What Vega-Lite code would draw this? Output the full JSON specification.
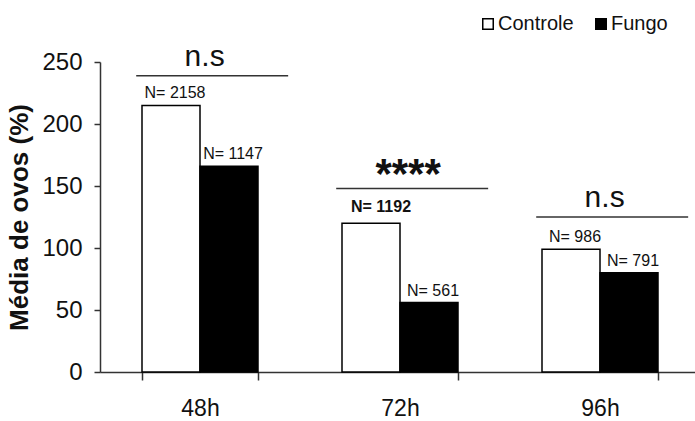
{
  "$schema": "https://vega.github.io/schema/vega-lite/v6.json",
  "autosize": {"type": "none"},
  "padding": {"left": 100, "top": 62, "right": 0, "bottom": 49},
  "width": 595,
  "height": 310,
  "background": "white",
  "config": {"view": {"stroke": null}, "font": "Liberation Sans"},
  "datasets": {
    "barras": [
      {"hora": "48h", "grupo": "Controle", "media": 215, "rotulo": "N= 2158", "destaque": false},
      {"hora": "48h", "grupo": "Fungo", "media": 166, "rotulo": "N= 1147", "destaque": false},
      {"hora": "72h", "grupo": "Controle", "media": 120, "rotulo": "N= 1192", "destaque": true},
      {"hora": "72h", "grupo": "Fungo", "media": 56, "rotulo": "N= 561", "destaque": false},
      {"hora": "96h", "grupo": "Controle", "media": 99, "rotulo": "N= 986", "destaque": false},
      {"hora": "96h", "grupo": "Fungo", "media": 80, "rotulo": "N= 791", "destaque": false}
    ],
    "signif": [
      {"hora": "48h", "texto": "n.s", "altura": 239},
      {"hora": "72h", "texto": "****", "altura": 148},
      {"hora": "96h", "texto": "n.s", "altura": 125}
    ]
  },
  "layer": [
    {
      "data": {"name": "barras"},
      "mark": {"type": "bar", "stroke": "black", "strokeWidth": 1.5},
      "encoding": {
        "x": {
          "field": "hora", "type": "nominal", "sort": ["48h", "72h", "96h"],
          "scale": {"range": [0, 600], "paddingInner": 0.42, "paddingOuter": 0.21},
          "axis": {
            "title": null, "labelAngle": 0, "tickBand": "extent", "tickSize": 8,
            "labelFontSize": 23, "labelPadding": 17, "labelColor": "#111",
            "domainColor": "#333", "tickColor": "#333", "domainWidth": 1.5, "tickWidth": 1.5, "grid": false
          }
        },
        "xOffset": {"field": "grupo", "type": "nominal", "sort": ["Controle", "Fungo"]},
        "y": {
          "field": "media", "type": "quantitative", "title": "Média de ovos  (%)",
          "scale": {"domain": [0, 250], "nice": false},
          "axis": {
            "values": [0, 50, 100, 150, 200, 250], "tickSize": 6, "labelPadding": 12,
            "labelFontSize": 24, "labelColor": "#111", "domainColor": "#333", "tickColor": "#333",
            "domainWidth": 1.5, "tickWidth": 1.5, "grid": false,
            "titleFontSize": 26, "titleFontWeight": "bold", "titleColor": "#111", "titlePadding": 9
          }
        },
        "fill": {
          "field": "grupo", "type": "nominal",
          "scale": {"domain": ["Controle", "Fungo"], "range": ["white", "black"]},
          "legend": {
            "title": null, "orient": "none", "legendX": 378, "legendY": -48, "direction": "horizontal",
            "symbolType": "square", "symbolSize": 110, "symbolStrokeColor": "black", "symbolStrokeWidth": 1.5,
            "labelFontSize": 20, "labelOffset": 0, "columnPadding": 17, "labelColor": "#111", "padding": 0
          }
        }
      }
    },
    {
      "data": {"name": "barras"},
      "transform": [{"filter": "!datum.destaque"}],
      "mark": {"type": "text", "fontSize": 16, "dx": 4, "dy": -7, "align": "center", "baseline": "alphabetic", "color": "#111"},
      "encoding": {
        "x": {"field": "hora", "type": "nominal", "sort": ["48h", "72h", "96h"]},
        "xOffset": {"field": "grupo", "type": "nominal", "sort": ["Controle", "Fungo"]},
        "y": {"field": "media", "type": "quantitative", "title": "Média de ovos  (%)", "scale": {"domain": [0, 250], "nice": false}},
        "text": {"field": "rotulo"}
      }
    },
    {
      "data": {"name": "barras"},
      "transform": [{"filter": "datum.destaque"}],
      "mark": {"type": "text", "fontSize": 16, "fontWeight": "bold", "dx": 10, "dy": -11, "align": "center", "baseline": "alphabetic", "color": "#111"},
      "encoding": {
        "x": {"field": "hora", "type": "nominal", "sort": ["48h", "72h", "96h"]},
        "xOffset": {"field": "grupo", "type": "nominal", "sort": ["Controle", "Fungo"]},
        "y": {"field": "media", "type": "quantitative", "title": "Média de ovos  (%)", "scale": {"domain": [0, 250], "nice": false}},
        "text": {"field": "rotulo"}
      }
    },
    {
      "data": {"name": "signif"},
      "mark": {"type": "rule", "stroke": "#333", "strokeWidth": 1.5},
      "encoding": {
        "x": {"field": "hora", "type": "nominal", "sort": ["48h", "72h", "96h"], "bandPosition": -0.05},
        "x2": {"field": "hora", "bandPosition": 1.26},
        "y": {"field": "altura", "type": "quantitative", "title": "Média de ovos  (%)", "scale": {"domain": [0, 250], "nice": false}}
      }
    },
    {
      "data": {"name": "signif"},
      "transform": [{"filter": "datum.texto == 'n.s'"}],
      "mark": {"type": "text", "fontSize": 30, "dy": -10, "align": "center", "baseline": "alphabetic", "color": "#111"},
      "encoding": {
        "x": {"field": "hora", "type": "nominal", "sort": ["48h", "72h", "96h"], "bandPosition": 0.54},
        "y": {"field": "altura", "type": "quantitative", "title": "Média de ovos  (%)", "scale": {"domain": [0, 250], "nice": false}},
        "text": {"field": "texto"}
      }
    },
    {
      "data": {"name": "signif"},
      "transform": [{"filter": "datum.texto == '****'"}],
      "mark": {"type": "text", "fontSize": 42, "fontWeight": "bold", "dy": 0, "align": "center", "baseline": "alphabetic", "color": "#111"},
      "encoding": {
        "x": {"field": "hora", "type": "nominal", "sort": ["48h", "72h", "96h"], "bandPosition": 0.57},
        "y": {"field": "altura", "type": "quantitative", "title": "Média de ovos  (%)", "scale": {"domain": [0, 250], "nice": false}},
        "text": {"field": "texto"}
      }
    }
  ]
}
